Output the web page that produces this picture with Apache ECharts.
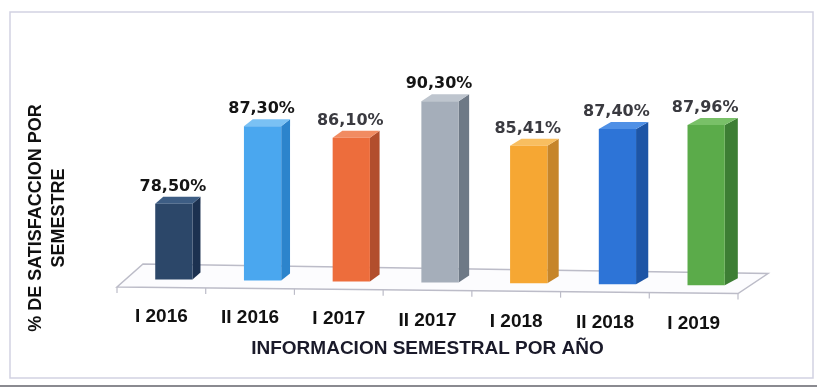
<!DOCTYPE html>
<html>
<head>
<meta charset="utf-8">
<script src="https://cdn.jsdelivr.net/npm/echarts@6/dist/echarts.min.js"></script>
<style>
  html, body { margin: 0; padding: 0; background: #ffffff; }
  #chart { width: 817px; height: 390px; }
</style>
</head>
<body>
<div id="chart"></div>
<script>
// Semesters on the horizontal axis
const categories = ['I 2016', 'II 2016', 'I 2017', 'II 2017', 'I 2018', 'II 2018', 'I 2019'];
// Satisfaction per semester (%)
const satisfaction = [78.50, 87.30, 86.10, 90.30, 85.41, 87.40, 87.96];
// Value range of the (hidden) vertical axis
const axisMin = 70;
const axisMax = 95;

// Face colours of each 3D column: front, side, top
const frontColors = ['#2c4769', '#4aa7ef', '#ed6d3c', '#a5aeba', '#f6a733', '#2d74d7', '#5bab4a'];
const sideColors  = ['#1c3150', '#2c84cc', '#b24e2d', '#6e7986', '#c6852a', '#1d55a6', '#3d7e34'];
const topColors   = ['#3d5d84', '#7ac1f4', '#f18b61', '#bec5ce', '#f8be60', '#4f90e6', '#79c068'];
const labelColors = ['#141414', '#141414', '#3a3a40', '#141414', '#3a3a40', '#3a3a40', '#3a3a40'];

const SLOPE = 0.0105;   // slight tilt of the floor, left to right
const DZ = 7;           // vertical depth of column tops

const chart = echarts.init(document.getElementById('chart'), null, { renderer: 'canvas' });

function fmt(v) {
  return v.toFixed(2).replace('.', ',') + '%';
}

// Floor of the 3D plot area, with ticks between categories
function renderFloor(params, api) {
  const cs = params.coordSys;
  const base = api.coord([0, axisMin])[1];
  const left = cs.x, right = cs.x + cs.width;
  const fl = [left, base + 8];
  const fr = [right, base + 8 + (right - left) * SLOPE];
  const bl = [fl[0] + 26, fl[1] - 23];
  const br = [fr[0] + 30, fr[1] - 20];
  const children = [{
    type: 'polygon',
    shape: { points: [fl, fr, br, bl] },
    style: { fill: '#fcfcfe', stroke: '#bcbcc8', lineWidth: 1.5 }
  }];
  const step = cs.width / categories.length;
  for (let k = 0; k <= categories.length; k++) {
    const x = left + k * step;
    const y = base + 8 + (x - left) * SLOPE;
    children.push({
      type: 'line',
      shape: { x1: x, y1: y, x2: x, y2: y + 6 },
      style: { stroke: '#bcbcc8', lineWidth: 1.2 }
    });
  }
  return { type: 'group', children: children };
}

// One 3D column: front face, right side, top and value label
function renderBar(params, api) {
  const i = params.dataIndex;
  const cs = params.coordSys;
  const v = api.value(1);
  const top = api.coord([i, v]);
  const base = api.coord([i, axisMin]);
  const cat = api.size([1, 0])[0];
  const cx = top[0] + 12.5;
  const sh = (cx - cs.x) * SLOPE;
  const w = cat * 0.42;
  const xl = cx - w / 2, xr = cx + w / 2;
  const yt = top[1] + sh, yb = base[1] + sh;
  const sd = 8 + (cx - 175) * 0.0095;
  return {
    type: 'group',
    children: [
      {
        type: 'polygon',
        shape: { points: [[xr, yt], [xr + sd, yt - DZ], [xr + sd, yb - DZ], [xr, yb]] },
        style: { fill: sideColors[i] }
      },
      {
        type: 'polygon',
        shape: { points: [[xl, yt], [xl + sd, yt - DZ], [xr + sd, yt - DZ], [xr, yt]] },
        style: { fill: topColors[i] }
      },
      {
        type: 'rect',
        shape: { x: xl, y: yt, width: w, height: yb - yt },
        style: { fill: frontColors[i] }
      },
      {
        type: 'text',
        x: cx - 1,
        y: yt - DZ - 10,
        style: {
          text: fmt(v),
          align: 'center',
          verticalAlign: 'middle',
          fill: labelColors[i],
          font: 'bold 16px "DejaVu Sans", sans-serif'
        }
      }
    ]
  };
}

// Category labels follow the tilt of the floor
const labelRich = {};
categories.forEach(function (c, i) {
  labelRich['s' + i] = {
    padding: [Math.round(i * 1.2), 0, 0, 0],
    fontSize: 19,
    fontWeight: 'bold',
    fontFamily: '"Liberation Sans", Arial, sans-serif',
    color: '#111111'
  };
});

const option = {
  backgroundColor: '#ffffff',
  animation: false,
  grid: { left: 117, right: 79, top: 56, bottom: 111 },
  xAxis: {
    type: 'category',
    data: categories,
    axisLine: { show: false },
    axisTick: { show: false },
    splitLine: { show: false },
    axisLabel: {
      margin: 28,
      formatter: function (value, index) { return '{s' + index + '|' + value + '}'; },
      rich: labelRich
    },
    name: 'INFORMACION SEMESTRAL POR AÑO',
    nameLocation: 'middle',
    nameGap: 60,
    nameTextStyle: {
      fontSize: 19,
      fontWeight: 'bold',
      fontFamily: '"Liberation Sans", Arial, sans-serif',
      color: '#1a1a2a'
    }
  },
  yAxis: {
    type: 'value',
    min: axisMin,
    max: axisMax,
    show: false
  },
  graphic: [
    {
      type: 'rect',
      shape: { x: 10, y: 12, width: 803, height: 366 },
      style: { fill: 'none', stroke: '#d2d2e2', lineWidth: 1.5 },
      silent: true
    },
    {
      type: 'line',
      shape: { x1: 0, y1: 386, x2: 817, y2: 386 },
      style: { stroke: '#8a8a90', lineWidth: 2 },
      silent: true
    },
    {
      type: 'text',
      x: 48,
      y: 218,
      rotation: Math.PI / 2,
      style: {
        text: '% DE SATISFACCION POR\nSEMESTRE',
        align: 'center',
        verticalAlign: 'middle',
        lineHeight: 23,
        fill: '#111111',
        font: 'bold 18px "Liberation Sans", Arial, sans-serif'
      }
    }
  ],
  series: [
    {
      type: 'custom',
      name: 'piso',
      renderItem: renderFloor,
      data: [[0, axisMin]],
      silent: true,
      z: 1
    },
    {
      type: 'custom',
      name: 'satisfaccion',
      renderItem: renderBar,
      data: satisfaction.map(function (v, i) { return [i, v]; }),
      encode: { x: 0, y: 1 },
      z: 2
    }
  ]
};

chart.setOption(option);
</script>
</body>
</html>
